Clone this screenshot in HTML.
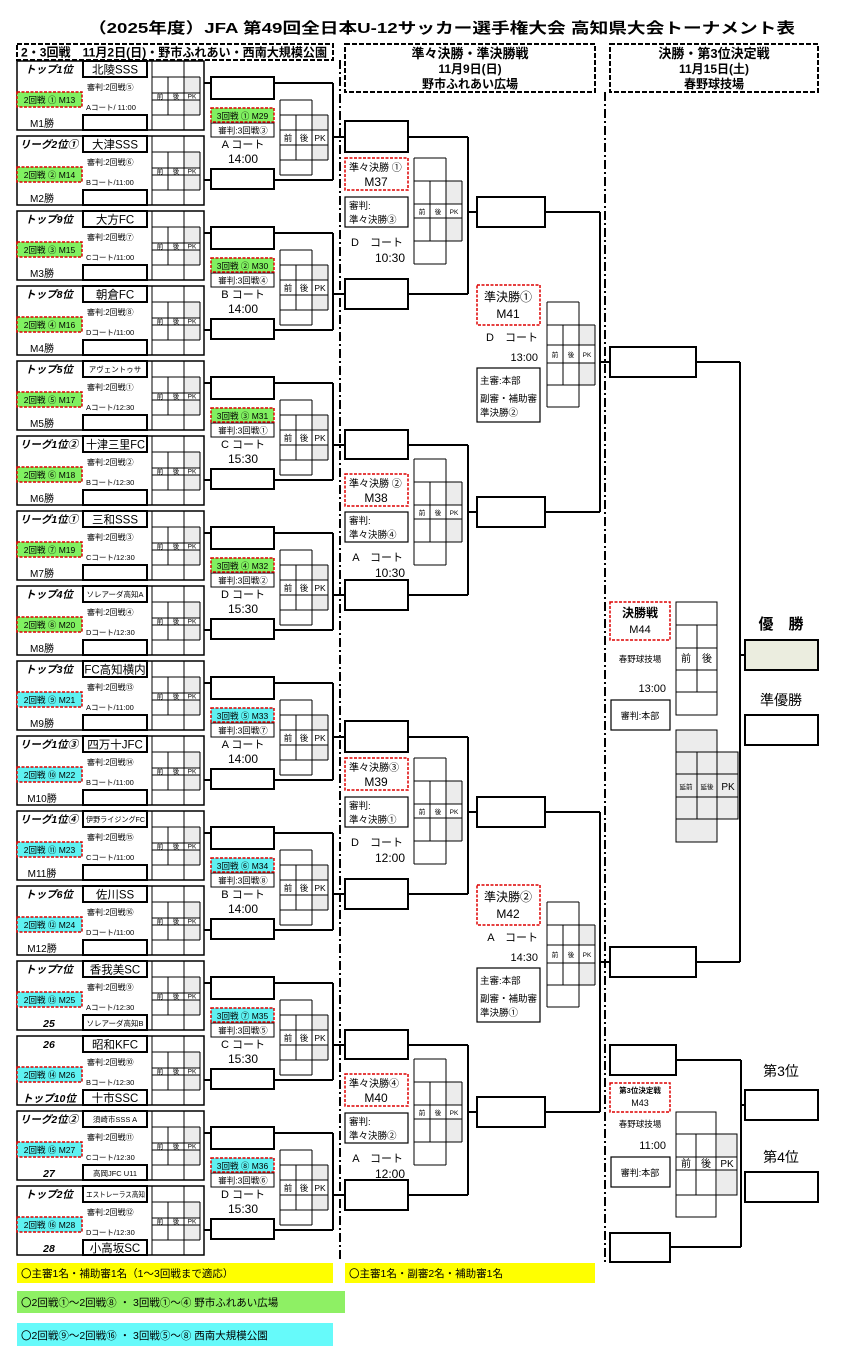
<!DOCTYPE html>
<html><head><meta charset="utf-8"><style>
html,body{margin:0;padding:0;background:#fff}
svg{display:block}
text{font-family:"Liberation Sans","Noto Sans CJK JP",sans-serif;fill:#000}
.lb{font-size:10.5px;font-style:italic;font-weight:bold;text-anchor:middle}
.tn{font-size:11.5px;text-anchor:middle}
.ts{font-size:7.5px;text-anchor:middle}
.s8{font-size:8px}
.ml{font-size:8.5px;text-anchor:middle}
.s7{font-size:7.5px}
.mw{font-size:10px;text-anchor:middle}
.t6{font-size:6.5px;text-anchor:middle}
.t8{font-size:8.5px;text-anchor:middle}
.m{text-anchor:middle}
.e{text-anchor:end}
.b{font-weight:bold}
</style></head><body>
<svg width="846" height="1358" viewBox="0 0 846 1358" xmlns="http://www.w3.org/2000/svg">
<defs>
<g id="blk" fill="none" stroke="#000">
<rect x="184" y="16" width="16" height="16" fill="#ececec" stroke="none"/>
<rect x="184" y="39" width="16" height="15" fill="#ececec" stroke="none"/>
<rect x="17" y="0" width="187" height="69" stroke-width="1.5"/>
<rect x="83" y="0" width="64" height="16" stroke-width="2" fill="#fff"/>
<rect x="83" y="54" width="64" height="15" stroke-width="2" fill="#fff"/>
<path d="M152 0V69M168 16V54M184 0V69M200 16V54M152 16H200M152 32H200M152 39H200M152 54H200" stroke-width="1"/>
</g>
<g id="pr" fill="none" stroke="#000">
<rect x="312" y="54" width="16" height="15" fill="#ececec" stroke="none"/>
<rect x="312" y="84" width="16" height="15" fill="#ececec" stroke="none"/>
<rect x="211" y="16" width="63" height="22" stroke-width="2"/>
<rect x="211" y="108" width="63" height="20" stroke-width="2"/>
<path d="M204 22H211M274 22H333M204 119H211M274 119H333M333 22V119" stroke-width="2"/>
<rect x="211" y="62" width="63" height="14" stroke-width="1"/>
<path d="M280 39V114M296 54V99M312 39V114M328 54V99M280 39H312M280 54H328M280 69H328M280 84H328M280 99H328M280 114H312" stroke-width="1"/>
</g>
<g id="qg" fill="none" stroke="#000">
<rect x="446" y="23" width="16" height="23" fill="#ececec" stroke="none"/>
<rect x="446" y="60" width="16" height="23" fill="#ececec" stroke="none"/>
<path d="M414 0V106M430 23V83M446 0V106M462 23V83M414 0H446M414 23H462M414 46H462M414 60H462M414 83H462M414 106H446" stroke-width="1"/>
</g>
<g id="sg" fill="none" stroke="#000">
<rect x="579" y="23" width="16" height="20" fill="#ececec" stroke="none"/>
<rect x="579" y="61" width="16" height="22" fill="#ececec" stroke="none"/>
<path d="M547 0V105M563 23V83M579 0V105M595 23V83M547 0H579M547 23H595M547 43H595M547 61H595M547 83H595M547 105H579" stroke-width="1"/>
</g>
</defs>

<text x="88" y="33" font-size="15" class="b" textLength="707" lengthAdjust="spacingAndGlyphs">（2025年度）JFA 第49回全日本U-12サッカー選手権大会 高知県大会トーナメント表</text>

<g fill="none" stroke="#000" stroke-width="2" stroke-dasharray="5 2">
<rect x="17" y="44" width="316" height="16"/>
<rect x="345" y="44" width="250" height="48"/>
<rect x="610" y="44" width="208" height="48"/>
</g>
<text x="21" y="56.5" font-size="12" class="b" textLength="306" lengthAdjust="spacingAndGlyphs">2・3回戦　11月2日(日)・野市ふれあい・西南大規模公園</text>
<text x="470" y="58" font-size="13" class="m b">準々決勝・準決勝戦</text>
<text x="470" y="73" font-size="12" class="m b">11月9日(日)</text>
<text x="470" y="88" font-size="12" class="m b">野市ふれあい広場</text>
<text x="714" y="58" font-size="13" class="m b">決勝・第3位決定戦</text>
<text x="714" y="73" font-size="12" class="m b">11月15日(土)</text>
<text x="714" y="88" font-size="12" class="m b">春野球技場</text>

<path d="M340 60V1262M605 92V1262" stroke="#000" stroke-width="2" stroke-dasharray="9 3 2 3" fill="none"/>

<g transform="translate(0,61)"><use href="#blk"/><text x="49" y="12" class="lb">トップ1位</text><text x="115" y="12.5" class="tn">北陵SSS</text><text x="87" y="29" class="s8">審判:2回戦⑤</text><rect x="17" y="31" width="65" height="15" fill="#80f060" stroke="#d00" stroke-width="1.5" stroke-dasharray="3 1.5"/><text x="49.5" y="42" class="ml">2回戦 ① M13</text><text x="86" y="49" class="s7">Aコート/ 11:00</text><text x="42" y="66" class="mw">M1勝</text><text y="37.5" class="t6"><tspan x="160">前</tspan><tspan x="176">後</tspan><tspan x="192">PK</tspan></text></g>
<g transform="translate(0,136)"><use href="#blk"/><text x="49" y="12" class="lb">リーグ2位①</text><text x="115" y="12.5" class="tn">大津SSS</text><text x="87" y="29" class="s8">審判:2回戦⑥</text><rect x="17" y="31" width="65" height="15" fill="#80f060" stroke="#d00" stroke-width="1.5" stroke-dasharray="3 1.5"/><text x="49.5" y="42" class="ml">2回戦 ② M14</text><text x="86" y="49" class="s7">Bコート/11:00</text><text x="42" y="66" class="mw">M2勝</text><text y="37.5" class="t6"><tspan x="160">前</tspan><tspan x="176">後</tspan><tspan x="192">PK</tspan></text></g>
<g transform="translate(0,211)"><use href="#blk"/><text x="49" y="12" class="lb">トップ9位</text><text x="115" y="12.5" class="tn">大方FC</text><text x="87" y="29" class="s8">審判:2回戦⑦</text><rect x="17" y="31" width="65" height="15" fill="#80f060" stroke="#d00" stroke-width="1.5" stroke-dasharray="3 1.5"/><text x="49.5" y="42" class="ml">2回戦 ③ M15</text><text x="86" y="49" class="s7">Cコート/11:00</text><text x="42" y="66" class="mw">M3勝</text><text y="37.5" class="t6"><tspan x="160">前</tspan><tspan x="176">後</tspan><tspan x="192">PK</tspan></text></g>
<g transform="translate(0,286)"><use href="#blk"/><text x="49" y="12" class="lb">トップ8位</text><text x="115" y="12.5" class="tn">朝倉FC</text><text x="87" y="29" class="s8">審判:2回戦⑧</text><rect x="17" y="31" width="65" height="15" fill="#80f060" stroke="#d00" stroke-width="1.5" stroke-dasharray="3 1.5"/><text x="49.5" y="42" class="ml">2回戦 ④ M16</text><text x="86" y="49" class="s7">Dコート/11:00</text><text x="42" y="66" class="mw">M4勝</text><text y="37.5" class="t6"><tspan x="160">前</tspan><tspan x="176">後</tspan><tspan x="192">PK</tspan></text></g>
<g transform="translate(0,361)"><use href="#blk"/><text x="49" y="12" class="lb">トップ5位</text><text x="115" y="11" class="ts">アヴェントゥサ</text><text x="87" y="29" class="s8">審判:2回戦①</text><rect x="17" y="31" width="65" height="15" fill="#80f060" stroke="#d00" stroke-width="1.5" stroke-dasharray="3 1.5"/><text x="49.5" y="42" class="ml">2回戦 ⑤ M17</text><text x="86" y="49" class="s7">Aコート/12:30</text><text x="42" y="66" class="mw">M5勝</text><text y="37.5" class="t6"><tspan x="160">前</tspan><tspan x="176">後</tspan><tspan x="192">PK</tspan></text></g>
<g transform="translate(0,436)"><use href="#blk"/><text x="49" y="12" class="lb">リーグ1位②</text><text x="86" y="12.5" class="tn" style="text-anchor:start" textLength="59" lengthAdjust="spacingAndGlyphs">十津三里FC</text><text x="87" y="29" class="s8">審判:2回戦②</text><rect x="17" y="31" width="65" height="15" fill="#80f060" stroke="#d00" stroke-width="1.5" stroke-dasharray="3 1.5"/><text x="49.5" y="42" class="ml">2回戦 ⑥ M18</text><text x="86" y="49" class="s7">Bコート/12:30</text><text x="42" y="66" class="mw">M6勝</text><text y="37.5" class="t6"><tspan x="160">前</tspan><tspan x="176">後</tspan><tspan x="192">PK</tspan></text></g>
<g transform="translate(0,511)"><use href="#blk"/><text x="49" y="12" class="lb">リーグ1位①</text><text x="115" y="12.5" class="tn">三和SSS</text><text x="87" y="29" class="s8">審判:2回戦③</text><rect x="17" y="31" width="65" height="15" fill="#80f060" stroke="#d00" stroke-width="1.5" stroke-dasharray="3 1.5"/><text x="49.5" y="42" class="ml">2回戦 ⑦ M19</text><text x="86" y="49" class="s7">Cコート/12:30</text><text x="42" y="66" class="mw">M7勝</text><text y="37.5" class="t6"><tspan x="160">前</tspan><tspan x="176">後</tspan><tspan x="192">PK</tspan></text></g>
<g transform="translate(0,586)"><use href="#blk"/><text x="49" y="12" class="lb">トップ4位</text><text x="115" y="11" class="ts">ソレアーダ高知A</text><text x="87" y="29" class="s8">審判:2回戦④</text><rect x="17" y="31" width="65" height="15" fill="#80f060" stroke="#d00" stroke-width="1.5" stroke-dasharray="3 1.5"/><text x="49.5" y="42" class="ml">2回戦 ⑧ M20</text><text x="86" y="49" class="s7">Dコート/12:30</text><text x="42" y="66" class="mw">M8勝</text><text y="37.5" class="t6"><tspan x="160">前</tspan><tspan x="176">後</tspan><tspan x="192">PK</tspan></text></g>
<g transform="translate(0,661)"><use href="#blk"/><text x="49" y="12" class="lb">トップ3位</text><text x="115" y="12.5" class="tn">FC高知横内</text><text x="87" y="29" class="s8">審判:2回戦⑬</text><rect x="17" y="31" width="65" height="15" fill="#5ef2f2" stroke="#d00" stroke-width="1.5" stroke-dasharray="3 1.5"/><text x="49.5" y="42" class="ml">2回戦 ⑨ M21</text><text x="86" y="49" class="s7">Aコート/11:00</text><text x="42" y="66" class="mw">M9勝</text><text y="37.5" class="t6"><tspan x="160">前</tspan><tspan x="176">後</tspan><tspan x="192">PK</tspan></text></g>
<g transform="translate(0,736)"><use href="#blk"/><text x="49" y="12" class="lb">リーグ1位③</text><text x="115" y="12.5" class="tn">四万十JFC</text><text x="87" y="29" class="s8">審判:2回戦⑭</text><rect x="17" y="31" width="65" height="15" fill="#5ef2f2" stroke="#d00" stroke-width="1.5" stroke-dasharray="3 1.5"/><text x="49.5" y="42" class="ml">2回戦 ⑩ M22</text><text x="86" y="49" class="s7">Bコート/11:00</text><text x="42" y="66" class="mw">M10勝</text><text y="37.5" class="t6"><tspan x="160">前</tspan><tspan x="176">後</tspan><tspan x="192">PK</tspan></text></g>
<g transform="translate(0,811)"><use href="#blk"/><text x="49" y="12" class="lb">リーグ1位④</text><text x="86" y="11" class="ts" style="text-anchor:start" textLength="59" lengthAdjust="spacingAndGlyphs">伊野ライジングFC</text><text x="87" y="29" class="s8">審判:2回戦⑮</text><rect x="17" y="31" width="65" height="15" fill="#5ef2f2" stroke="#d00" stroke-width="1.5" stroke-dasharray="3 1.5"/><text x="49.5" y="42" class="ml">2回戦 ⑪ M23</text><text x="86" y="49" class="s7">Cコート/11:00</text><text x="42" y="66" class="mw">M11勝</text><text y="37.5" class="t6"><tspan x="160">前</tspan><tspan x="176">後</tspan><tspan x="192">PK</tspan></text></g>
<g transform="translate(0,886)"><use href="#blk"/><text x="49" y="12" class="lb">トップ6位</text><text x="115" y="12.5" class="tn">佐川SS</text><text x="87" y="29" class="s8">審判:2回戦⑯</text><rect x="17" y="31" width="65" height="15" fill="#5ef2f2" stroke="#d00" stroke-width="1.5" stroke-dasharray="3 1.5"/><text x="49.5" y="42" class="ml">2回戦 ⑫ M24</text><text x="86" y="49" class="s7">Dコート/11:00</text><text x="42" y="66" class="mw">M12勝</text><text y="37.5" class="t6"><tspan x="160">前</tspan><tspan x="176">後</tspan><tspan x="192">PK</tspan></text></g>
<g transform="translate(0,961)"><use href="#blk"/><text x="49" y="12" class="lb">トップ7位</text><text x="115" y="12.5" class="tn">香我美SC</text><text x="87" y="29" class="s8">審判:2回戦⑨</text><rect x="17" y="31" width="65" height="15" fill="#5ef2f2" stroke="#d00" stroke-width="1.5" stroke-dasharray="3 1.5"/><text x="49.5" y="42" class="ml">2回戦 ⑬ M25</text><text x="86" y="49" class="s7">Aコート/12:30</text><text x="49" y="66" class="lb">25</text><text x="115" y="65" class="ts">ソレアーダ高知B</text><text y="37.5" class="t6"><tspan x="160">前</tspan><tspan x="176">後</tspan><tspan x="192">PK</tspan></text></g>
<g transform="translate(0,1036)"><use href="#blk"/><text x="49" y="12" class="lb">26</text><text x="115" y="12.5" class="tn">昭和KFC</text><text x="87" y="29" class="s8">審判:2回戦⑩</text><rect x="17" y="31" width="65" height="15" fill="#5ef2f2" stroke="#d00" stroke-width="1.5" stroke-dasharray="3 1.5"/><text x="49.5" y="42" class="ml">2回戦 ⑭ M26</text><text x="86" y="49" class="s7">Bコート/12:30</text><text x="49" y="66" class="lb">トップ10位</text><text x="115" y="66" class="tn">十市SSC</text><text y="37.5" class="t6"><tspan x="160">前</tspan><tspan x="176">後</tspan><tspan x="192">PK</tspan></text></g>
<g transform="translate(0,1111)"><use href="#blk"/><text x="49" y="12" class="lb">リーグ2位②</text><text x="115" y="11" class="ts">須崎市SSS A</text><text x="87" y="29" class="s8">審判:2回戦⑪</text><rect x="17" y="31" width="65" height="15" fill="#5ef2f2" stroke="#d00" stroke-width="1.5" stroke-dasharray="3 1.5"/><text x="49.5" y="42" class="ml">2回戦 ⑮ M27</text><text x="86" y="49" class="s7">Cコート/12:30</text><text x="49" y="66" class="lb">27</text><text x="115" y="65" class="ts">高岡JFC U11</text><text y="37.5" class="t6"><tspan x="160">前</tspan><tspan x="176">後</tspan><tspan x="192">PK</tspan></text></g>
<g transform="translate(0,1186)"><use href="#blk"/><text x="49" y="12" class="lb">トップ2位</text><text x="86" y="11" class="ts" style="text-anchor:start" textLength="59" lengthAdjust="spacingAndGlyphs">エストレーラス高知</text><text x="87" y="29" class="s8">審判:2回戦⑫</text><rect x="17" y="31" width="65" height="15" fill="#5ef2f2" stroke="#d00" stroke-width="1.5" stroke-dasharray="3 1.5"/><text x="49.5" y="42" class="ml">2回戦 ⑯ M28</text><text x="86" y="49" class="s7">Dコート/12:30</text><text x="49" y="66" class="lb">28</text><text x="115" y="66" class="tn">小高坂SC</text><text y="37.5" class="t6"><tspan x="160">前</tspan><tspan x="176">後</tspan><tspan x="192">PK</tspan></text></g>

<g transform="translate(0,61)"><use href="#pr"/><path d="M333 76H345" stroke="#000" stroke-width="2"/><rect x="211" y="47" width="63" height="14" fill="#80f060" stroke="#d00" stroke-width="1.5" stroke-dasharray="3 1.5"/><text x="242.5" y="58" class="ml">3回戦 ① M29</text><text x="243" y="72.5" class="t8">審判:3回戦③</text><text x="243" y="87" font-size="11" class="m">A コート</text><text x="243" y="102" font-size="12" class="m">14:00</text><text y="80" class="t8"><tspan x="288">前</tspan><tspan x="304">後</tspan><tspan x="320">PK</tspan></text></g>
<g transform="translate(0,211)"><use href="#pr"/><path d="M333 83H345" stroke="#000" stroke-width="2"/><rect x="211" y="47" width="63" height="14" fill="#80f060" stroke="#d00" stroke-width="1.5" stroke-dasharray="3 1.5"/><text x="242.5" y="58" class="ml">3回戦 ② M30</text><text x="243" y="72.5" class="t8">審判:3回戦④</text><text x="243" y="87" font-size="11" class="m">B コート</text><text x="243" y="102" font-size="12" class="m">14:00</text><text y="80" class="t8"><tspan x="288">前</tspan><tspan x="304">後</tspan><tspan x="320">PK</tspan></text></g>
<g transform="translate(0,361)"><use href="#pr"/><path d="M333 84H345" stroke="#000" stroke-width="2"/><rect x="211" y="47" width="63" height="14" fill="#80f060" stroke="#d00" stroke-width="1.5" stroke-dasharray="3 1.5"/><text x="242.5" y="58" class="ml">3回戦 ③ M31</text><text x="243" y="72.5" class="t8">審判:3回戦①</text><text x="243" y="87" font-size="11" class="m">C コート</text><text x="243" y="102" font-size="12" class="m">15:30</text><text y="80" class="t8"><tspan x="288">前</tspan><tspan x="304">後</tspan><tspan x="320">PK</tspan></text></g>
<g transform="translate(0,511)"><use href="#pr"/><path d="M333 84H345" stroke="#000" stroke-width="2"/><rect x="211" y="47" width="63" height="14" fill="#80f060" stroke="#d00" stroke-width="1.5" stroke-dasharray="3 1.5"/><text x="242.5" y="58" class="ml">3回戦 ④ M32</text><text x="243" y="72.5" class="t8">審判:3回戦②</text><text x="243" y="87" font-size="11" class="m">D コート</text><text x="243" y="102" font-size="12" class="m">15:30</text><text y="80" class="t8"><tspan x="288">前</tspan><tspan x="304">後</tspan><tspan x="320">PK</tspan></text></g>
<g transform="translate(0,661)"><use href="#pr"/><path d="M333 76H345" stroke="#000" stroke-width="2"/><rect x="211" y="47" width="63" height="14" fill="#5ef2f2" stroke="#d00" stroke-width="1.5" stroke-dasharray="3 1.5"/><text x="242.5" y="58" class="ml">3回戦 ⑤ M33</text><text x="243" y="72.5" class="t8">審判:3回戦⑦</text><text x="243" y="87" font-size="11" class="m">A コート</text><text x="243" y="102" font-size="12" class="m">14:00</text><text y="80" class="t8"><tspan x="288">前</tspan><tspan x="304">後</tspan><tspan x="320">PK</tspan></text></g>
<g transform="translate(0,811)"><use href="#pr"/><path d="M333 83H345" stroke="#000" stroke-width="2"/><rect x="211" y="47" width="63" height="14" fill="#5ef2f2" stroke="#d00" stroke-width="1.5" stroke-dasharray="3 1.5"/><text x="242.5" y="58" class="ml">3回戦 ⑥ M34</text><text x="243" y="72.5" class="t8">審判:3回戦⑧</text><text x="243" y="87" font-size="11" class="m">B コート</text><text x="243" y="102" font-size="12" class="m">14:00</text><text y="80" class="t8"><tspan x="288">前</tspan><tspan x="304">後</tspan><tspan x="320">PK</tspan></text></g>
<g transform="translate(0,961)"><use href="#pr"/><path d="M333 84H345" stroke="#000" stroke-width="2"/><rect x="211" y="47" width="63" height="14" fill="#5ef2f2" stroke="#d00" stroke-width="1.5" stroke-dasharray="3 1.5"/><text x="242.5" y="58" class="ml">3回戦 ⑦ M35</text><text x="243" y="72.5" class="t8">審判:3回戦⑤</text><text x="243" y="87" font-size="11" class="m">C コート</text><text x="243" y="102" font-size="12" class="m">15:30</text><text y="80" class="t8"><tspan x="288">前</tspan><tspan x="304">後</tspan><tspan x="320">PK</tspan></text></g>
<g transform="translate(0,1111)"><use href="#pr"/><path d="M333 84H345" stroke="#000" stroke-width="2"/><rect x="211" y="47" width="63" height="14" fill="#5ef2f2" stroke="#d00" stroke-width="1.5" stroke-dasharray="3 1.5"/><text x="242.5" y="58" class="ml">3回戦 ⑧ M36</text><text x="243" y="72.5" class="t8">審判:3回戦⑥</text><text x="243" y="87" font-size="11" class="m">D コート</text><text x="243" y="102" font-size="12" class="m">15:30</text><text y="80" class="t8"><tspan x="288">前</tspan><tspan x="304">後</tspan><tspan x="320">PK</tspan></text></g>

<g fill="none" stroke="#000" stroke-width="2">
<rect x="345" y="121" width="63" height="31"/><rect x="345" y="279" width="63" height="30"/>
<path d="M408 137H468M408 294H468M468 137V294M468 212H477"/>
<rect x="477" y="197" width="68" height="30"/>
<rect x="345" y="430" width="63" height="29"/><rect x="345" y="580" width="63" height="30"/>
<path d="M408 445H468M408 595H468M468 445V595M468 512H477"/>
<rect x="477" y="497" width="68" height="30"/>
<rect x="345" y="721" width="63" height="31"/><rect x="345" y="879" width="63" height="30"/>
<path d="M408 737H468M408 894H468M468 737V894M468 812H477"/>
<rect x="477" y="797" width="68" height="30"/>
<rect x="345" y="1030" width="63" height="29"/><rect x="345" y="1180" width="63" height="30"/>
<path d="M408 1045H468M408 1195H468M468 1045V1195M468 1112H477"/>
<rect x="477" y="1097" width="68" height="30"/>
<path d="M545 212H600M545 512H600M600 212V512M600 362H610"/>
<rect x="610" y="347" width="86" height="30"/>
<path d="M545 812H600M545 1112H600M600 812V1112M600 962H610"/>
<rect x="610" y="947" width="86" height="30"/>
<path d="M696 362H740M696 962H740M740 362V962M740 655H745"/>
<rect x="745" y="640" width="73" height="30" fill="#ebeddf"/>
<rect x="745" y="715" width="73" height="30"/>
<rect x="610" y="1045" width="66" height="30"/><rect x="610" y="1233" width="60" height="29"/>
<path d="M676 1060H741M670 1247H741M741 1060V1247M741 1105H745"/>
<rect x="745" y="1090" width="73" height="30"/>
<rect x="745" y="1172" width="73" height="30"/>
</g>

<use href="#qg" y="158"/><use href="#qg" y="459"/><use href="#qg" y="758"/><use href="#qg" y="1059"/>
<g fill="#fff" stroke="#d00" stroke-width="1.5" stroke-dasharray="3 1.5">
<rect x="345" y="158" width="63" height="32"/><rect x="345" y="474" width="63" height="32"/><rect x="345" y="758" width="63" height="32"/><rect x="345" y="1074" width="63" height="32"/>
<rect x="477" y="285" width="63" height="40"/><rect x="477" y="885" width="63" height="40"/>
<rect x="610" y="602" width="60" height="38"/><rect x="610" y="1083" width="60" height="29"/>
</g>
<g fill="#fff" stroke="#000" stroke-width="1.2">
<rect x="345" y="197" width="63" height="30"/><rect x="345" y="512" width="63" height="30"/><rect x="345" y="797" width="63" height="30"/><rect x="345" y="1113" width="63" height="30"/>
<rect x="477" y="368" width="63" height="54"/><rect x="477" y="968" width="63" height="54"/>
<rect x="611" y="700" width="59" height="30"/><rect x="611" y="1157" width="59" height="30"/>
</g>

<g font-size="10">
<text x="349" y="171" font-size="10">準々決勝 ①</text><text x="376" y="186" class="m" font-size="12">M37</text>
<text x="349" y="209" font-size="9.5">審判:</text><text x="349" y="223" font-size="9.5">準々決勝③</text>
<text x="403" y="246" class="e" font-size="11">D　コート</text><text x="405" y="262" class="e" font-size="12">10:30</text>
<text x="349" y="487" font-size="10">準々決勝 ②</text><text x="376" y="502" class="m" font-size="12">M38</text>
<text x="349" y="524" font-size="9.5">審判:</text><text x="349" y="538" font-size="9.5">準々決勝④</text>
<text x="403" y="561" class="e" font-size="11">A　コート</text><text x="405" y="577" class="e" font-size="12">10:30</text>
<text x="349" y="771" font-size="10">準々決勝③</text><text x="376" y="786" class="m" font-size="12">M39</text>
<text x="349" y="809" font-size="9.5">審判:</text><text x="349" y="823" font-size="9.5">準々決勝①</text>
<text x="403" y="846" class="e" font-size="11">D　コート</text><text x="405" y="862" class="e" font-size="12">12:00</text>
<text x="349" y="1087" font-size="10">準々決勝④</text><text x="376" y="1102" class="m" font-size="12">M40</text>
<text x="349" y="1125" font-size="9.5">審判:</text><text x="349" y="1139" font-size="9.5">準々決勝②</text>
<text x="403" y="1162" class="e" font-size="11">A　コート</text><text x="405" y="1178" class="e" font-size="12">12:00</text>
</g>
<text y="214" class="t6"><tspan x="422">前</tspan><tspan x="438">後</tspan><tspan x="454">PK</tspan></text>
<text y="515" class="t6"><tspan x="422">前</tspan><tspan x="438">後</tspan><tspan x="454">PK</tspan></text>
<text y="814" class="t6"><tspan x="422">前</tspan><tspan x="438">後</tspan><tspan x="454">PK</tspan></text>
<text y="1115" class="t6"><tspan x="422">前</tspan><tspan x="438">後</tspan><tspan x="454">PK</tspan></text>

<use href="#sg" y="302"/><use href="#sg" y="902"/>
<text x="508" y="301" class="m" font-size="12">準決勝①</text><text x="508" y="318" class="m" font-size="12">M41</text>
<text x="538" y="341" class="e" font-size="11">D　コート</text><text x="538" y="361" class="e" font-size="11">13:00</text>
<text x="480" y="384" font-size="9.5">主審:本部</text><text x="480" y="402" font-size="9.5">副審・補助審</text><text x="480" y="416" font-size="9.5">準決勝②</text>
<text y="357" class="t6"><tspan x="555">前</tspan><tspan x="571">後</tspan><tspan x="587">PK</tspan></text>
<text x="508" y="901" class="m" font-size="12">準決勝②</text><text x="508" y="918" class="m" font-size="12">M42</text>
<text x="538" y="941" class="e" font-size="11">A　コート</text><text x="538" y="961" class="e" font-size="11">14:30</text>
<text x="480" y="984" font-size="9.5">主審:本部</text><text x="480" y="1002" font-size="9.5">副審・補助審</text><text x="480" y="1016" font-size="9.5">準決勝①</text>
<text y="957" class="t6"><tspan x="555">前</tspan><tspan x="571">後</tspan><tspan x="587">PK</tspan></text>

<g fill="none" stroke="#000" stroke-width="1">
<path d="M676 602H717V715H676ZM676 625H717M676 648H717M676 670H717M676 692H717M697 625V692"/>
<rect x="676" y="730" width="41" height="112" fill="#ececec"/>
<rect x="676" y="752" width="62" height="67" fill="#ececec"/>
<path d="M676 774H738M676 797H738M676 819H717M697 752V819M717 752V819"/>
<rect x="717" y="1134" width="20" height="23" fill="#ececec" stroke="none"/>
<rect x="717" y="1170" width="20" height="25" fill="#ececec" stroke="none"/>
<path d="M676 1112H716V1217H676ZM676 1134H737V1195H676M676 1157H737M676 1170H737M696 1134V1195M716 1134V1195"/>
</g>
<text x="640" y="617" class="m b" font-size="12">決勝戦</text><text x="640" y="633" class="m" font-size="11">M44</text>
<text x="640" y="662" class="m" font-size="8.5">春野球技場</text>
<text x="666" y="692" class="e" font-size="11">13:00</text>
<text x="640" y="719" class="m" font-size="9">審判:本部</text>
<text y="662" font-size="10" class="m"><tspan x="686">前</tspan><tspan x="707">後</tspan></text>
<text y="789" class="m" font-size="6.5"><tspan x="686">延前</tspan><tspan x="707">延後</tspan></text><text x="728" y="790" class="m" font-size="10">PK</text>
<text x="781" y="629" class="m b" font-size="15">優　勝</text>
<text x="781" y="705" class="m" font-size="14">準優勝</text>
<text x="640" y="1093" class="m b" font-size="7.5">第3位決定戦</text><text x="640" y="1106" class="m" font-size="9">M43</text>
<text x="640" y="1127" class="m" font-size="8.5">春野球技場</text>
<text x="666" y="1149" class="e" font-size="11">11:00</text>
<text x="640" y="1176" class="m" font-size="9">審判:本部</text>
<text y="1167" font-size="10" class="m"><tspan x="686">前</tspan><tspan x="706">後</tspan><tspan x="727">PK</tspan></text>
<text x="781" y="1076" class="m" font-size="14">第3位</text>
<text x="781" y="1162" class="m" font-size="14">第4位</text>

<rect x="17" y="1263" width="316" height="20" fill="#ffff00"/>
<text x="21" y="1277" font-size="10.5">〇主審1名・補助審1名（1～3回戦まで適応）</text>
<rect x="345" y="1263" width="250" height="20" fill="#ffff00"/>
<text x="349" y="1277" font-size="10.5">〇主審1名・副審2名・補助審1名</text>
<rect x="17" y="1291" width="328" height="22" fill="#8ef064"/>
<text x="21" y="1306" font-size="10.5">〇2回戦①～2回戦⑧ ・ 3回戦①～④ 野市ふれあい広場</text>
<rect x="17" y="1323" width="316" height="23" fill="#66fafa"/>
<text x="21" y="1339" font-size="10.5">〇2回戦⑨～2回戦⑯ ・ 3回戦⑤～⑧ 西南大規模公園</text>
</svg>
</body></html>
